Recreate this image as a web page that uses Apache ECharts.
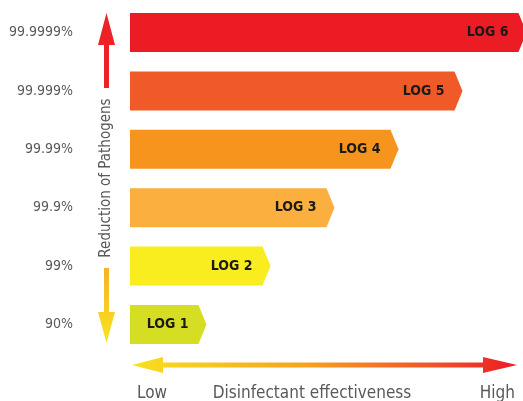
<!DOCTYPE html>
<html>
<head>
<meta charset="utf-8">
<script src="https://cdn.jsdelivr.net/npm/echarts@6/dist/echarts.min.js"></script>
<style>
html,body{margin:0;padding:0;background:#fff;}
#chart{width:523px;height:401px;}
</style>
</head>
<body>
<div id="chart"></div>
<script>
// ---- data ----
const categories = ['90%', '99%', '99.9%', '99.99%', '99.999%', '99.9999%'];
const logValues = [1, 2, 3, 4, 5, 6];
const logLabels = ['LOG 1', 'LOG 2', 'LOG 3', 'LOG 4', 'LOG 5', 'LOG 6'];
const barColors = ['#D6DE23', '#F9EC1F', '#FBAF3F', '#F7941E', '#F05A28', '#EC1C24'];
const yAxisTitle = 'Reduction of Pathogens';
const xAxisTitles = ['Low', 'Disinfectant effectiveness', 'High'];

const X_MIN = -0.07, X_MAX = 6.07;
const FONT = '"Liberation Sans Narrow", "DejaVu Sans Condensed", "Roboto Condensed", sans-serif';
const GRAY = '#58595B';

const chart = echarts.init(document.getElementById('chart'), null, {renderer: 'canvas'});

function renderItem(params, api) {
  const v = api.value(0);
  const ci = api.value(1);
  const start = api.coord([X_MIN, ci]);
  const end = api.coord([v, ci]);
  const h = 39;
  const tip = 8;
  const y0 = start[1] - h / 2, y1 = start[1] + h / 2;
  return {
    type: 'group',
    children: [
      {
        type: 'polygon',
        shape: {points: [[start[0], y0], [end[0], y0], [end[0] + tip, start[1]], [end[0], y1], [start[0], y1]]},
        style: {fill: barColors[params.dataIndex]}
      },
      {
        type: 'text',
        style: {
          x: end[0] - 10, y: end[1],
          text: logLabels[params.dataIndex],
          align: 'right', verticalAlign: 'middle',
          font: 'bold 14px ' + FONT,
          fill: '#1a1a1a'
        }
      }
    ]
  };
}

const option = {
  backgroundColor: '#ffffff',
  animation: false,
  grid: {left: 130, right: 0, top: 3.3, bottom: 47.3, containLabel: false},
  xAxis: {
    type: 'value', min: X_MIN, max: X_MAX, show: false
  },
  yAxis: {
    type: 'category',
    data: categories,
    axisLine: {show: false},
    axisTick: {show: false},
    splitLine: {show: false},
    axisLabel: {color: GRAY, fontSize: 14, fontFamily: FONT, margin: 57}
  },
  series: [{
    type: 'custom',
    renderItem: renderItem,
    encode: {x: 0, y: 1},
    clip: false,
    data: logValues.map((v, i) => [v, i])
  }],
  graphic: [
    // vertical arrow: up part
    {
      type: 'polygon', silent: true,
      shape: {points: [[106.5, 13], [115, 45], [109, 45], [109, 88], [104, 88], [104, 45], [98, 45]]},
      style: {fill: '#EC2227'}
    },
    // vertical arrow: down part
    {
      type: 'polygon', silent: true,
      shape: {points: [[104, 268], [109, 268], [109, 312], [115, 312], [106.5, 343], [98, 312], [104, 312]]},
      style: {fill: {type: 'linear', x: 0, y: 0, x2: 0, y2: 1, colorStops: [{offset: 0, color: '#F8B02A'}, {offset: 1, color: '#F9E41E'}]}}
    },
    // y axis title
    {
      type: 'text', silent: true,
      x: 106, y: 178, rotation: Math.PI / 2,
      style: {text: yAxisTitle, align: 'center', verticalAlign: 'middle', font: '15px ' + FONT, fill: GRAY}
    },
    // horizontal double arrow
    {
      type: 'polygon', silent: true,
      shape: {points: [[132, 365], [163, 357], [163, 362.5], [483, 362.5], [483, 357], [517, 365], [483, 373], [483, 367.5], [163, 367.5], [163, 373]]},
      style: {fill: {type: 'linear', x: 0, y: 0, x2: 1, y2: 0, colorStops: [
        {offset: 0, color: '#F9E01E'}, {offset: 0.45, color: '#F7A21E'}, {offset: 0.75, color: '#F15A28'}, {offset: 1, color: '#EC1C24'}]}}
    },
    {
      type: 'text', silent: true, x: 137, y: 394,
      style: {text: xAxisTitles[0], align: 'left', verticalAlign: 'middle', font: '17px ' + FONT, fill: GRAY}
    },
    {
      type: 'text', silent: true, x: 312, y: 394,
      style: {text: xAxisTitles[1], align: 'center', verticalAlign: 'middle', font: '17px ' + FONT, fill: GRAY}
    },
    {
      type: 'text', silent: true, x: 515, y: 394,
      style: {text: xAxisTitles[2], align: 'right', verticalAlign: 'middle', font: '17px ' + FONT, fill: GRAY}
    }
  ]
};
chart.setOption(option);
</script>
</body>
</html>
